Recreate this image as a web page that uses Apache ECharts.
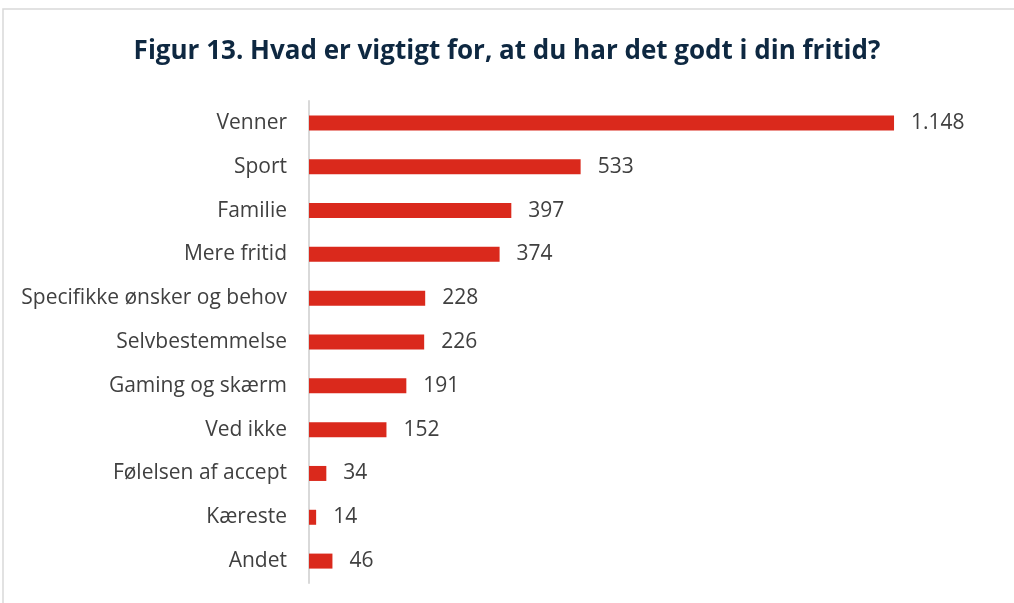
<!DOCTYPE html>
<html>
  <head>
    <meta charset="utf-8" />
    <title>Figur 13</title>
    <script src="https://cdn.jsdelivr.net/npm/echarts@6/dist/echarts.min.js"></script>
    <style>
      body { margin: 0; background: #fff; }
    </style>
  </head>
  <body>
    <div id="main" style="width: 1014px; height: 603px"></div>
    <script type="text/javascript">
      var categories = [
        "Venner", "Sport", "Familie", "Mere fritid", "Specifikke ønsker og behov",
        "Selvbestemmelse", "Gaming og skærm", "Ved ikke", "Følelsen af accept",
        "Kæreste", "Andet"
      ];
      var values = [1148, 533, 397, 374, 228, 226, 191, 152, 34, 14, 46];

      // Danish thousands separator
      function fmt(v) {
        return String(v).replace(/\B(?=(\d{3})+(?!\d))/g, ".");
      }

      var myChart = echarts.init(document.getElementById("main"));

      var option = {
        animation: false,
        textStyle: { fontFamily: "Open Sans" },
        title: {
          text: "Figur 13. Hvad er vigtigt for, at du har det godt i din fritid?",
          left: "center",
          top: 34,
          textStyle: { color: "#0E2841", fontSize: 26, fontWeight: "bold", fontFamily: "Open Sans" }
        },
        graphic: [
          {
            type: "rect",
            shape: { x: 3, y: 9, width: 1100, height: 700 },
            style: { fill: "none", stroke: "#d9d9d9", lineWidth: 1.5 }
          }
        ],
        grid: { left: 309, top: 101, width: 662.5, height: 482 },
        xAxis: {
          type: "value",
          min: 0,
          max: 1300,
          show: false
        },
        yAxis: {
          type: "category",
          data: categories,
          inverse: true,
          axisLine: { show: true, lineStyle: { color: "#d9d9d9", width: 2 } },
          axisTick: { show: false },
          axisLabel: { color: "#404040", fontSize: 21, margin: 22 }
        },
        series: [
          {
            type: "bar",
            data: values,
            barWidth: 15,
            itemStyle: { color: "#DA291C" },
            label: {
              show: true,
              position: "right",
              distance: 17,
              color: "#404040",
              fontSize: 21,
              formatter: function (p) { return fmt(p.value); }
            }
          }
        ]
      };

      myChart.setOption(option);
    </script>
  </body>
</html>
